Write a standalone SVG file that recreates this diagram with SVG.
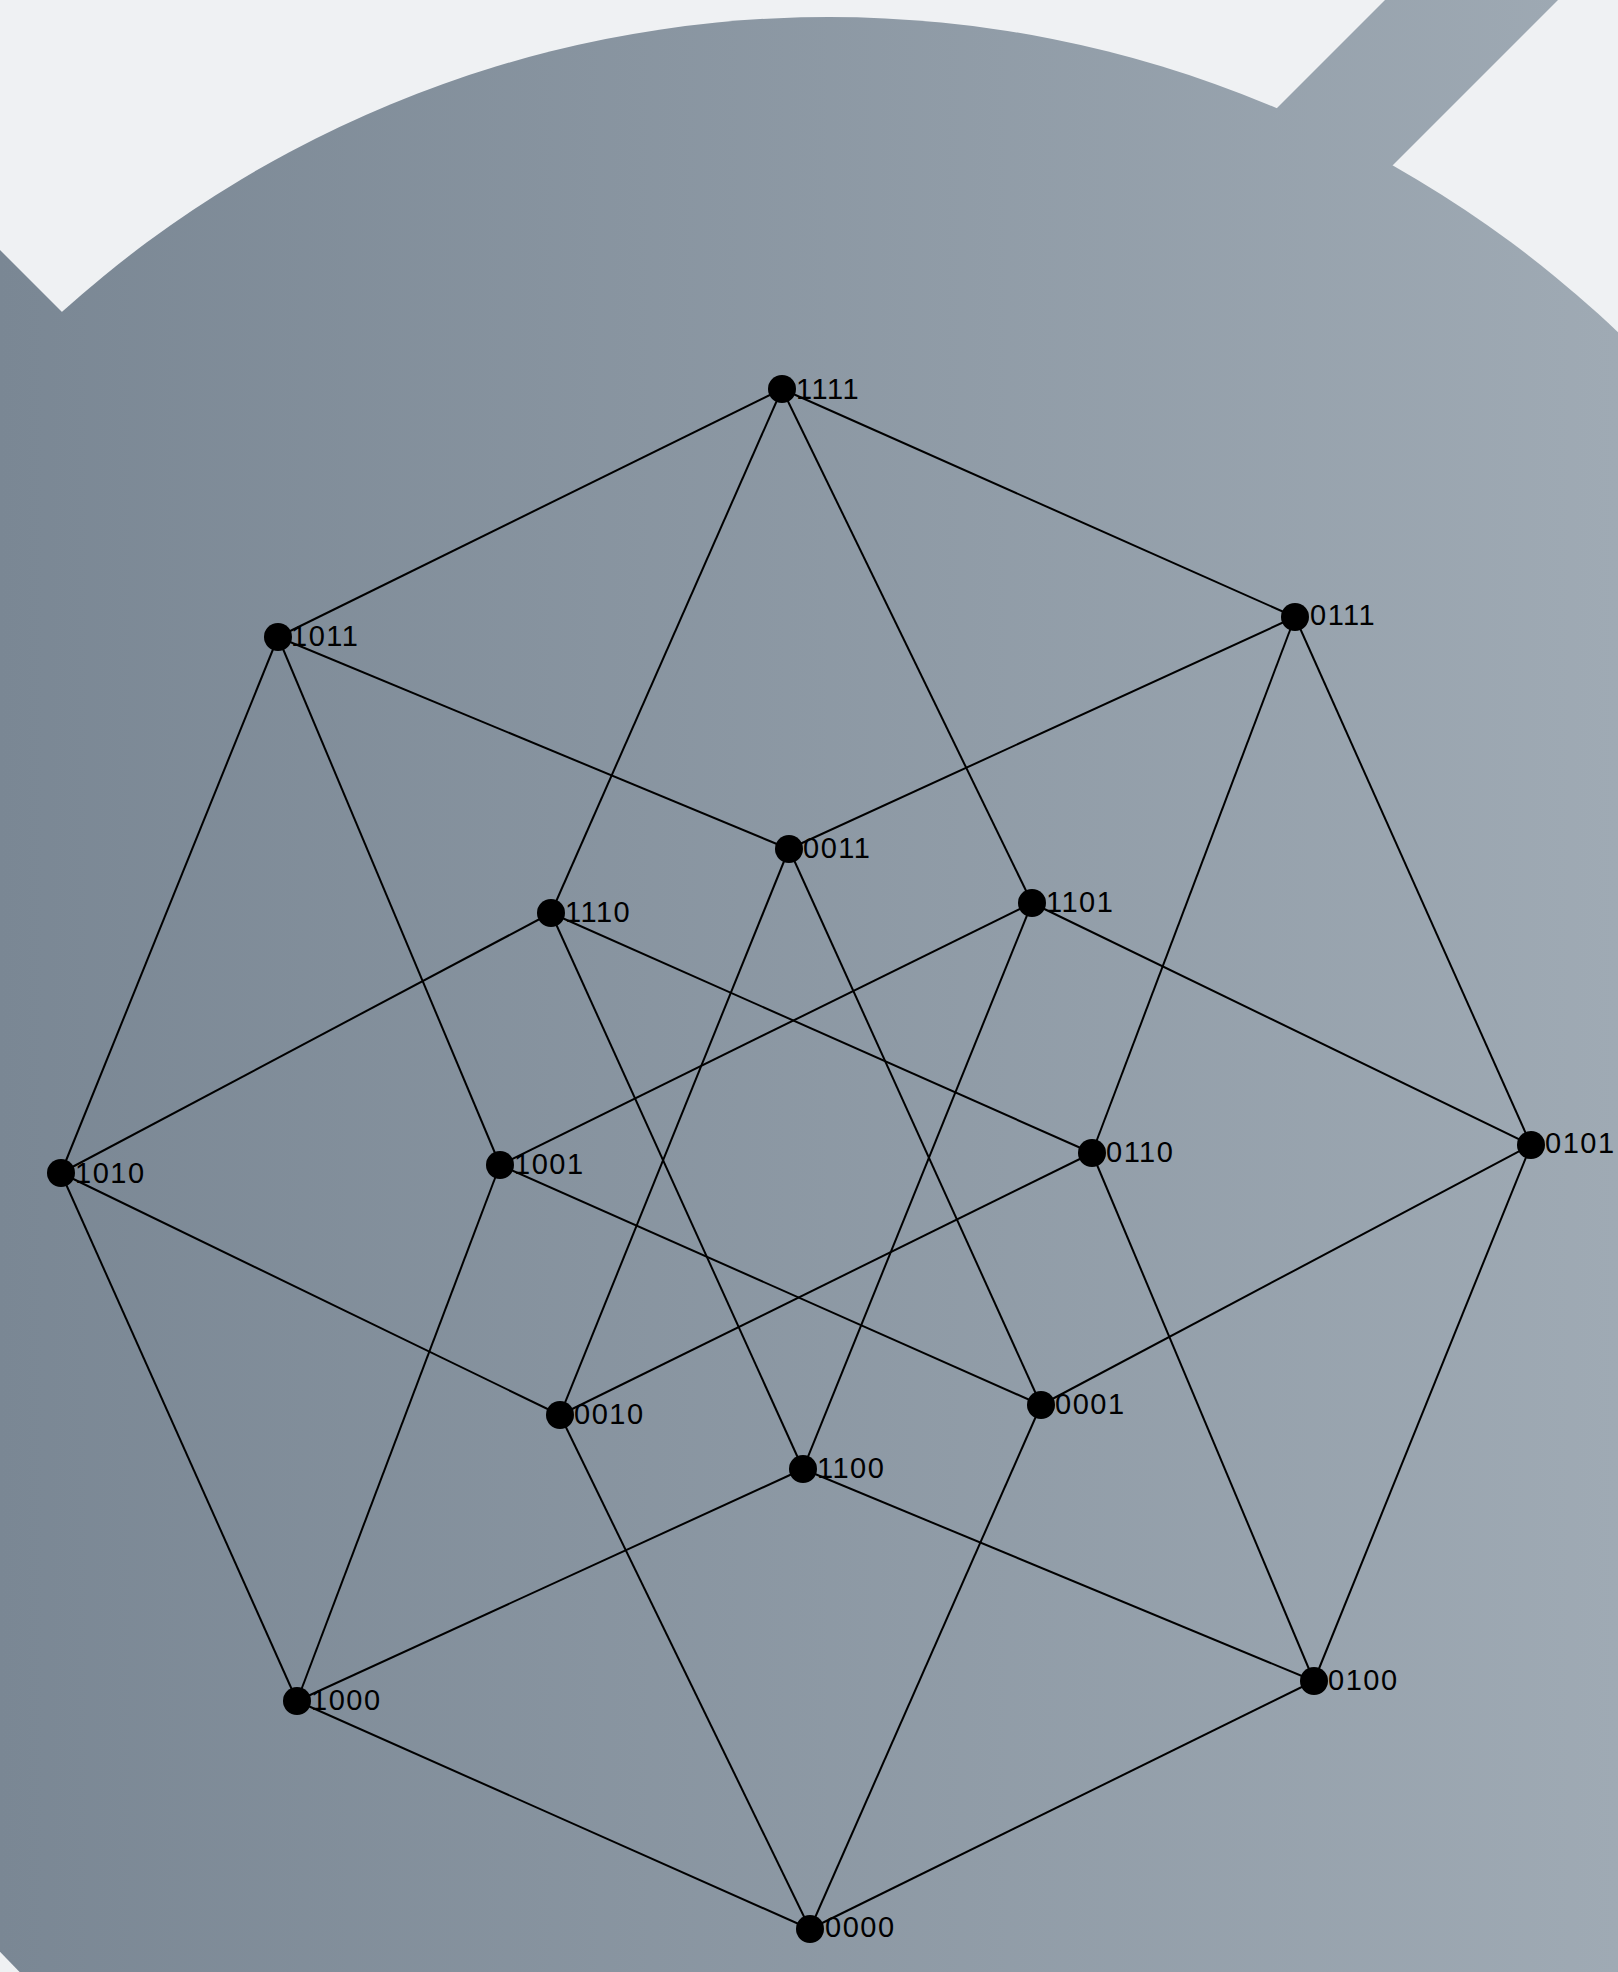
<svg xmlns="http://www.w3.org/2000/svg" width="1618" height="1972" viewBox="0 0 1618 1972">
<defs>
<linearGradient id="bg" gradientUnits="userSpaceOnUse" x1="0" y1="0" x2="1618" y2="0">
<stop offset="0" stop-color="#7a8794"/>
<stop offset="1" stop-color="#9faab4"/>
</linearGradient>
<style>
.edge{stroke:#000;stroke-width:2;fill:none}
.dot{fill:#000}
.lbl{font-family:"Liberation Sans",Arial,sans-serif;font-size:29px;letter-spacing:1.5px;fill:#000}
</style>
</defs>
<rect x="0" y="0" width="1618" height="1972" fill="#eff1f3"/>
<g id="backdrop" fill="url(#bg)">
<circle cx="829" cy="1162" r="1145"/>
<polygon points="1385,0 1558,0 1358,200 1185,200"/>
<polygon points="0,250 250,500 0,750"/>
</g>
<g id="connectors">
<line class="edge" x1="810" y1="1929" x2="1041" y2="1405"/>
<line class="edge" x1="810" y1="1929" x2="560" y2="1415"/>
<line class="edge" x1="810" y1="1929" x2="1314" y2="1681"/>
<line class="edge" x1="810" y1="1929" x2="297" y2="1701"/>
<line class="edge" x1="1041" y1="1405" x2="789" y2="849"/>
<line class="edge" x1="1041" y1="1405" x2="1531" y2="1145"/>
<line class="edge" x1="1041" y1="1405" x2="500" y2="1165"/>
<line class="edge" x1="560" y1="1415" x2="789" y2="849"/>
<line class="edge" x1="560" y1="1415" x2="1092" y2="1153"/>
<line class="edge" x1="560" y1="1415" x2="61" y2="1173"/>
<line class="edge" x1="789" y1="849" x2="1295" y2="617"/>
<line class="edge" x1="789" y1="849" x2="278" y2="637"/>
<line class="edge" x1="1314" y1="1681" x2="1531" y2="1145"/>
<line class="edge" x1="1314" y1="1681" x2="1092" y2="1153"/>
<line class="edge" x1="1314" y1="1681" x2="803" y2="1469"/>
<line class="edge" x1="1531" y1="1145" x2="1295" y2="617"/>
<line class="edge" x1="1531" y1="1145" x2="1032" y2="903"/>
<line class="edge" x1="1092" y1="1153" x2="1295" y2="617"/>
<line class="edge" x1="1092" y1="1153" x2="551" y2="913"/>
<line class="edge" x1="1295" y1="617" x2="782" y2="389"/>
<line class="edge" x1="297" y1="1701" x2="500" y2="1165"/>
<line class="edge" x1="297" y1="1701" x2="61" y2="1173"/>
<line class="edge" x1="297" y1="1701" x2="803" y2="1469"/>
<line class="edge" x1="500" y1="1165" x2="278" y2="637"/>
<line class="edge" x1="500" y1="1165" x2="1032" y2="903"/>
<line class="edge" x1="61" y1="1173" x2="278" y2="637"/>
<line class="edge" x1="61" y1="1173" x2="551" y2="913"/>
<line class="edge" x1="278" y1="637" x2="782" y2="389"/>
<line class="edge" x1="803" y1="1469" x2="1032" y2="903"/>
<line class="edge" x1="803" y1="1469" x2="551" y2="913"/>
<line class="edge" x1="1032" y1="903" x2="782" y2="389"/>
<line class="edge" x1="551" y1="913" x2="782" y2="389"/>
</g>
<g id="n1111"><text class="lbl" x="796" y="399">1111</text><circle class="dot" cx="782" cy="389" r="14"/></g>
<g id="n1011"><text class="lbl" x="291" y="646">1011</text><circle class="dot" cx="278" cy="637" r="14"/></g>
<g id="n0111"><text class="lbl" x="1310" y="625">0111</text><circle class="dot" cx="1295" cy="617" r="14"/></g>
<g id="n0011"><text class="lbl" x="803" y="858">0011</text><circle class="dot" cx="789" cy="849" r="14"/></g>
<g id="n1110"><text class="lbl" x="565" y="922">1110</text><circle class="dot" cx="551" cy="913" r="14"/></g>
<g id="n1101"><text class="lbl" x="1046" y="912">1101</text><circle class="dot" cx="1032" cy="903" r="14"/></g>
<g id="n1010"><text class="lbl" x="75" y="1183">1010</text><circle class="dot" cx="61" cy="1173" r="14"/></g>
<g id="n1001"><text class="lbl" x="514" y="1174">1001</text><circle class="dot" cx="500" cy="1165" r="14"/></g>
<g id="n0110"><text class="lbl" x="1106" y="1162">0110</text><circle class="dot" cx="1092" cy="1153" r="14"/></g>
<g id="n0101"><text class="lbl" x="1545" y="1153">0101</text><circle class="dot" cx="1531" cy="1145" r="14"/></g>
<g id="n0010"><text class="lbl" x="574" y="1424">0010</text><circle class="dot" cx="560" cy="1415" r="14"/></g>
<g id="n0001"><text class="lbl" x="1055" y="1414">0001</text><circle class="dot" cx="1041" cy="1405" r="14"/></g>
<g id="n1100"><text class="lbl" x="817" y="1478">1100</text><circle class="dot" cx="803" cy="1469" r="14"/></g>
<g id="n1000"><text class="lbl" x="311" y="1710">1000</text><circle class="dot" cx="297" cy="1701" r="14"/></g>
<g id="n0100"><text class="lbl" x="1328" y="1690">0100</text><circle class="dot" cx="1314" cy="1681" r="14"/></g>
<g id="n0000"><text class="lbl" x="825" y="1937">0000</text><circle class="dot" cx="810" cy="1929" r="14"/></g>
</svg>
